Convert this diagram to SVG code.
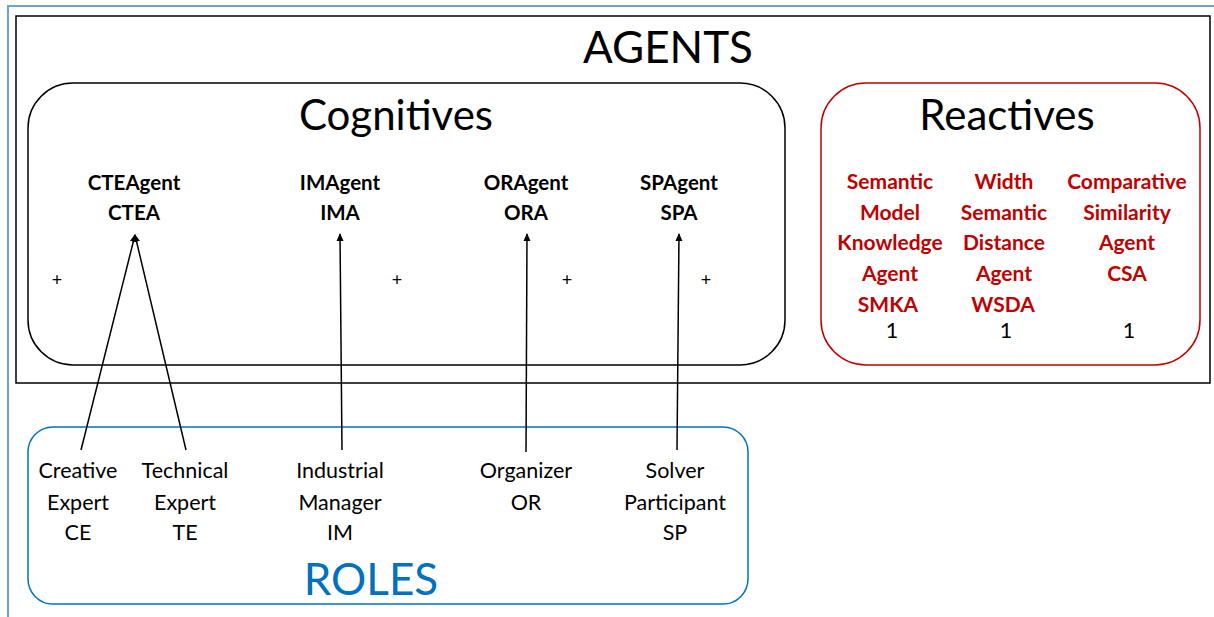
<svg xmlns="http://www.w3.org/2000/svg" width="1214" height="617" viewBox="0 0 1214 617">
<style>
text{font-family:Lato,"Open Sans","Liberation Sans",sans-serif;text-anchor:middle;}
.title{font-size:44px;fill:#000;}
.ag{font-size:20.5px;font-weight:bold;fill:#000;}
.re{font-size:21px;font-weight:bold;fill:#c00000;}
.rl{font-size:21.5px;fill:#000;}
.pl{font-size:18px;fill:#000;}
.conn{stroke:#000;stroke-width:1.5;fill:none;marker-end:url(#ah);}
</style>
<defs>
<marker id="ah" markerWidth="8" markerHeight="8" refX="7" refY="4" orient="auto" markerUnits="userSpaceOnUse">
<path d="M0,0.5 L8,4 L0,7.5 Z" fill="#000"/>
</marker>
</defs>
<rect width="1214" height="617" fill="#fff"/>
<path d="M8,617 V6 H1214" fill="none" stroke="#6fa0dc" stroke-width="2"/>
<g id="agents">
<rect x="16" y="16" width="1194" height="367" fill="none" stroke="#000" stroke-width="1.5"/>
<text class="title" x="668" y="63">AGENTS</text>
</g>
<g id="cognitives">
<rect x="28" y="83" width="757" height="282" rx="45" fill="none" stroke="#000" stroke-width="1.5"/>
<text class="title" x="396" y="130" style="font-size:42px">Cognitives</text>
<text class="pl" x="57" y="286">+</text>
<text class="pl" x="397" y="286">+</text>
<text class="pl" x="567" y="286">+</text>
<text class="pl" x="706" y="286">+</text>
</g>
<g id="ctea"><text class="ag" x="134" y="190">CTEAgent</text><text class="ag" x="134" y="220">CTEA</text></g>
<g id="ima"><text class="ag" x="340" y="190">IMAgent</text><text class="ag" x="340" y="220">IMA</text></g>
<g id="ora"><text class="ag" x="526" y="190">ORAgent</text><text class="ag" x="526" y="220">ORA</text></g>
<g id="spa"><text class="ag" x="679" y="190">SPAgent</text><text class="ag" x="679" y="220">SPA</text></g>
<g id="reactives">
<rect x="821" y="83" width="379" height="282" rx="45" fill="none" stroke="#c00000" stroke-width="1.5"/>
<text class="title" x="1007" y="130" style="font-size:42px">Reactives</text>
</g>
<g id="smka">
<text class="re" x="890" y="189">Semantic</text><text class="re" x="890" y="220">Model</text><text class="re" x="890" y="250">Knowledge</text><text class="re" x="890" y="281">Agent</text><text class="re" x="888" y="312">SMKA</text>
<text class="rl" x="892" y="338">1</text>
</g>
<g id="wsda">
<text class="re" x="1004" y="189">Width</text><text class="re" x="1004" y="220">Semantic</text><text class="re" x="1004" y="250">Distance</text><text class="re" x="1004" y="281">Agent</text><text class="re" x="1003" y="312">WSDA</text>
<text class="rl" x="1006" y="338">1</text>
</g>
<g id="csa">
<text class="re" x="1127" y="189">Comparative</text><text class="re" x="1127" y="220">Similarity</text><text class="re" x="1127" y="250">Agent</text><text class="re" x="1127" y="281">CSA</text>
<text class="rl" x="1129" y="338">1</text>
</g>
<g id="roles">
<rect x="28" y="427" width="720" height="177" rx="25" fill="none" stroke="#0070c0" stroke-width="1.5"/>
<text class="title" x="371" y="595" style="fill:#0070c0">ROLES</text>
</g>
<g id="ce"><text class="rl" x="78" y="478">Creative</text><text class="rl" x="78" y="510">Expert</text><text class="rl" x="78" y="540">CE</text></g>
<g id="te"><text class="rl" x="185" y="478">Technical</text><text class="rl" x="185" y="510">Expert</text><text class="rl" x="185" y="540">TE</text></g>
<g id="im"><text class="rl" x="340" y="478">Industrial</text><text class="rl" x="340" y="510">Manager</text><text class="rl" x="340" y="540">IM</text></g>
<g id="or"><text class="rl" x="526" y="478">Organizer</text><text class="rl" x="526" y="510">OR</text></g>
<g id="sp"><text class="rl" x="675" y="478">Solver</text><text class="rl" x="675" y="510">Participant</text><text class="rl" x="675" y="540">SP</text></g>
<g id="connectors">
<line class="conn" x1="81" y1="450" x2="135" y2="235"/>
<line class="conn" x1="186" y1="450" x2="135" y2="235"/>
<line class="conn" x1="342" y1="450" x2="340" y2="234"/>
<line class="conn" x1="526" y1="452" x2="527" y2="234"/>
<line class="conn" x1="677" y1="450" x2="679" y2="234"/>
</g>
</svg>
